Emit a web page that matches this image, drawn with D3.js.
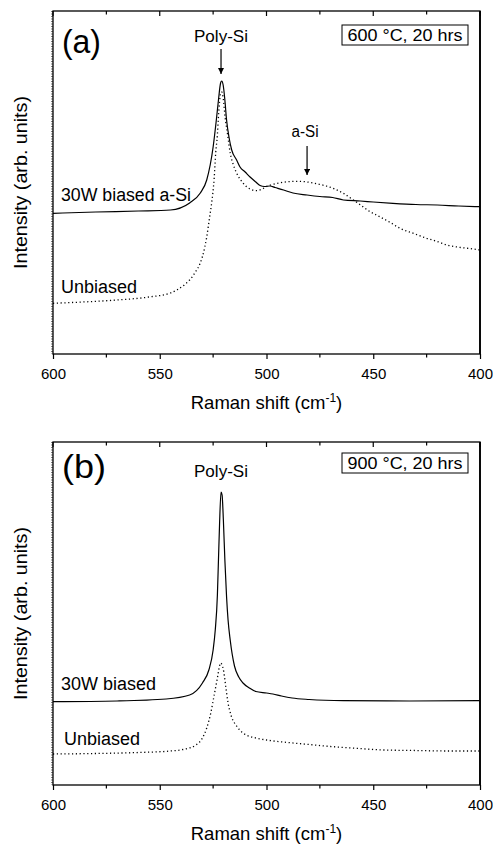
<!DOCTYPE html>
<html>
<head>
<meta charset="utf-8">
<script src="https://cdn.jsdelivr.net/npm/d3@7"></script>
<style>
  body { margin: 0; background: #fff; }
  svg { font-family: "Liberation Sans", Arial, sans-serif; }
</style>
</head>
<body>
<svg width="493" height="846"></svg>
<script>
// Raman spectra, two panels (arb. units)

var ticksMajor = [600, 550, 500, 450, 400]
var ticksMinor = [575, 525, 475, 425]

// panel (a) 600 C
var aBiasedX = [600,580,560,545,536,531,528,525,523.5,522.5,521.5,521,520.3,519.5,518.7,517.5,516.3,514,512.4,510,507.7,505,503,501,498.4,496,492,487.6,481,475,469,464,456,450,440.8,430,420,410,400]
var aBiasedY = [140.7,142,143,144,151,161,174,207,234,254,271,273,269,254,234,216,204,194,187,182,177,172,168.5,167.5,168,166.5,164,161,159,157.5,156.5,154,153,152,150.7,149.5,149,148,147.3]

var aUnbiasedX = [600,586,570,555,545,542,538,536,533,531,529,528,526.5,525.7,524.5,523.8,523,522.6,522,521.5,521,520.3,519.4,518.2,517,515.5,514,511,507.7,504.6,502,500,498,494,490,485,481,476,472,468,464,460,456,452,447,442,437.5,431,425,420,415.5,409,403,400]
var aUnbiasedY = [50.7,52,54,57,61,64,70,74,83,91,106,117,139,151,176,201,219,234,252,261,262,256,237,219,201,189,181,171,165,163.3,165,167.5,169,171,172.3,172.7,172,170,168,165,160.7,155,149,143,137.3,131.5,125.7,120.5,115.7,112.5,109,106.5,105,104]

// panel (b) 900 C
var bBiasedX = [600,570,547,536,530,527,525,524,523,522.5,522,521.3,520.8,520.2,519.5,518.7,518,517,515,513,511,508,505,500,497,493,488,480,464,433,400]
var bBiasedY = [83.3,84,86,90,102,115,135,155,190,225,260,293,290,265,225,188,165,145,119,108,102,97,93.5,92,91,89,87,85.5,84.3,84,84.3]

var bUnbiasedX = [600,580,560,545,538,533,530,528,526,524.5,523,522,521.5,521,520,519,518,516.5,514,511,505,500,490,480,470,460,445,430,415,400]
var bUnbiasedY = [31,31.5,32.5,34,36,40,47,57,73,90,107,119,122,121,113,97,82,69,59,52,47,45,42.5,40.5,38.5,37,35,34.5,34,34]

var panels = [
  {top: 11, bottom: 354, tag: "(a)", tagY: 53, polyY: 42, boxY: 25, box: "600 \u00B0C, 20 hrs",
   biased: [aBiasedX, aBiasedY], unbiased: [aUnbiasedX, aUnbiasedY],
   biasedLabel: "30W biased a-Si", biasedW: 130, biasedLabelY: 201, unbiasedLabelY: 293, unbiasedX: 61, arrows: true},
  {top: 442, bottom: 785, tag: "(b)", tagY: 478, polyY: 477, boxY: 453, box: "900 \u00B0C, 20 hrs",
   biased: [bBiasedX, bBiasedY], unbiased: [bUnbiasedX, bUnbiasedY],
   biasedLabel: "30W biased", biasedW: 95, biasedLabelY: 690, unbiasedLabelY: 745, unbiasedX: 64, arrows: false}
]

var left = 53, right = 480

var svg = d3.select("svg")

svg.append("defs").append("marker")
  .attr("id", "head")
  .attr("viewBox", "0 0 10 10")
  .attr("refX", 10).attr("refY", 5)
  .attr("markerWidth", 5).attr("markerHeight", 5)
  .attr("orient", "auto")
  .append("path")
  .attr("d", "M0,0 L10,5 L0,10 z")
  .attr("fill", "#000")

var makeLine = function(x, y)
{
  return d3.line()
    .x(function(d){ return x(d[0]) })
    .y(function(d){ return y(d[1]) })
    .curve(d3.curveMonotoneX)
}

var label = function(g, txt, x, y, size, width, anchor)
{
  var t = g.append("text").attr("x", x).attr("y", y)
    .attr("font-size", size).attr("text-anchor", anchor || "start").text(txt)
  if (width) t.attr("textLength", width).attr("lengthAdjust", "spacingAndGlyphs")
  return t
}

var drawPanel = function(p)
{
  var x = d3.scaleLinear().domain([600, 400]).range([left, right])
  var y = d3.scaleLinear().domain([0, 343]).range([p.bottom, p.top])
  var g = svg.append("g")

  // frame
  g.append("rect")
    .attr("x", left).attr("y", p.top)
    .attr("width", right - left).attr("height", p.bottom - p.top)
    .attr("fill", "none").attr("stroke", "#000").attr("stroke-width", 1.3)
  g.append("line")
    .attr("x1", right).attr("x2", right).attr("y1", p.top).attr("y2", p.bottom)
    .attr("stroke", "#000").attr("stroke-width", 1.8)
  // the left edge looks speckled in the original
  g.append("line")
    .attr("x1", left - 1).attr("x2", left - 1).attr("y1", p.top).attr("y2", p.bottom)
    .attr("stroke", "#000").attr("stroke-width", 1).attr("stroke-dasharray", "1,1.5")

  // bottom axis, ticks outward
  var bottomAxis = d3.axisBottom(x).tickValues(ticksMajor).tickSize(5).tickPadding(9)
  var ax = g.append("g")
    .attr("transform", "translate(0," + p.bottom + ")")
    .call(bottomAxis)
  ax.select(".domain").remove()
  ax.selectAll("text").attr("font-size", 15).attr("font-family", "Liberation Sans, Arial")
  ax.selectAll("line").attr("stroke-width", 1.2)

  g.append("g").selectAll("line")
    .data(ticksMinor).enter().append("line")
    .attr("x1", function(d){ return x(d) }).attr("x2", function(d){ return x(d) })
    .attr("y1", p.bottom).attr("y2", p.bottom + 3.5)
    .attr("stroke", "#000").attr("stroke-width", 1.2)

  // top ticks, inward
  g.append("g").selectAll("line")
    .data(ticksMajor.concat(ticksMinor)).enter().append("line")
    .attr("x1", function(d){ return x(d) }).attr("x2", function(d){ return x(d) })
    .attr("y1", p.top)
    .attr("y2", function(d){ return p.top + (ticksMajor.indexOf(d) >= 0 ? 5 : 3.5) })
    .attr("stroke", "#000").attr("stroke-width", 1.2)

  // spectra
  var bData = p.biased[0].map(function(v, i){ return [v, p.biased[1][i]] })
  var uData = p.unbiased[0].map(function(v, i){ return [v, p.unbiased[1][i]] })

  g.append("path").datum(uData)
    .attr("d", makeLine(x, y))
    .attr("fill", "none").attr("stroke", "#000")
    .attr("stroke-width", 1.3).attr("stroke-dasharray", "1.2,2.6")

  g.append("path").datum(bData)
    .attr("d", makeLine(x, y))
    .attr("fill", "none").attr("stroke", "#000").attr("stroke-width", 1.2)

  // labels
  label(g, p.tag, 62, p.tagY, 33, p.tag == "(a)" ? 39 : 44)
  label(g, "Poly-Si", 221, p.polyY, 16.5, 54, "middle")

  g.append("rect")
    .attr("x", 342).attr("y", p.boxY)
    .attr("width", 126).attr("height", 20)
    .attr("fill", "#fff").attr("stroke", "#000").attr("stroke-width", 1)
  label(g, p.box, 405, p.boxY + 15.5, 16.5, 115, "middle")

  label(g, p.biasedLabel, 61, p.biasedLabelY, 18, p.biasedW)
  label(g, "Unbiased", p.unbiasedX, p.unbiasedLabelY, 18, 76)

  if (p.arrows)
  {
    g.append("line")
      .attr("x1", x(521.3)).attr("x2", x(521.3))
      .attr("y1", p.top + 38).attr("y2", p.top + 63)
      .attr("stroke", "#000").attr("stroke-width", 1.2)
      .attr("marker-end", "url(#head)")

    label(g, "a-Si", 305, 137, 16, 27, "middle")
    g.append("line")
      .attr("x1", x(481)).attr("x2", x(481))
      .attr("y1", 146).attr("y2", 175)
      .attr("stroke", "#000").attr("stroke-width", 1.2)
      .attr("marker-end", "url(#head)")
  }

  // axis titles
  var xt = g.append("text").attr("x", (left + right) / 2).attr("y", p.bottom + 55)
    .attr("text-anchor", "middle").attr("font-size", 18.5)
  xt.append("tspan").text("Raman shift (cm")
  xt.append("tspan").attr("font-size", 12).attr("dy", -7).text("-1")
  xt.append("tspan").attr("dy", 7).text(")")

  g.append("text")
    .attr("transform", "translate(27," + ((p.top + p.bottom) / 2) + ") rotate(-90)")
    .attr("text-anchor", "middle").attr("font-size", 19)
    .attr("textLength", 173).attr("lengthAdjust", "spacingAndGlyphs")
    .text("Intensity (arb. units)")
}

panels.forEach(drawPanel)
</script>
</body>
</html>
